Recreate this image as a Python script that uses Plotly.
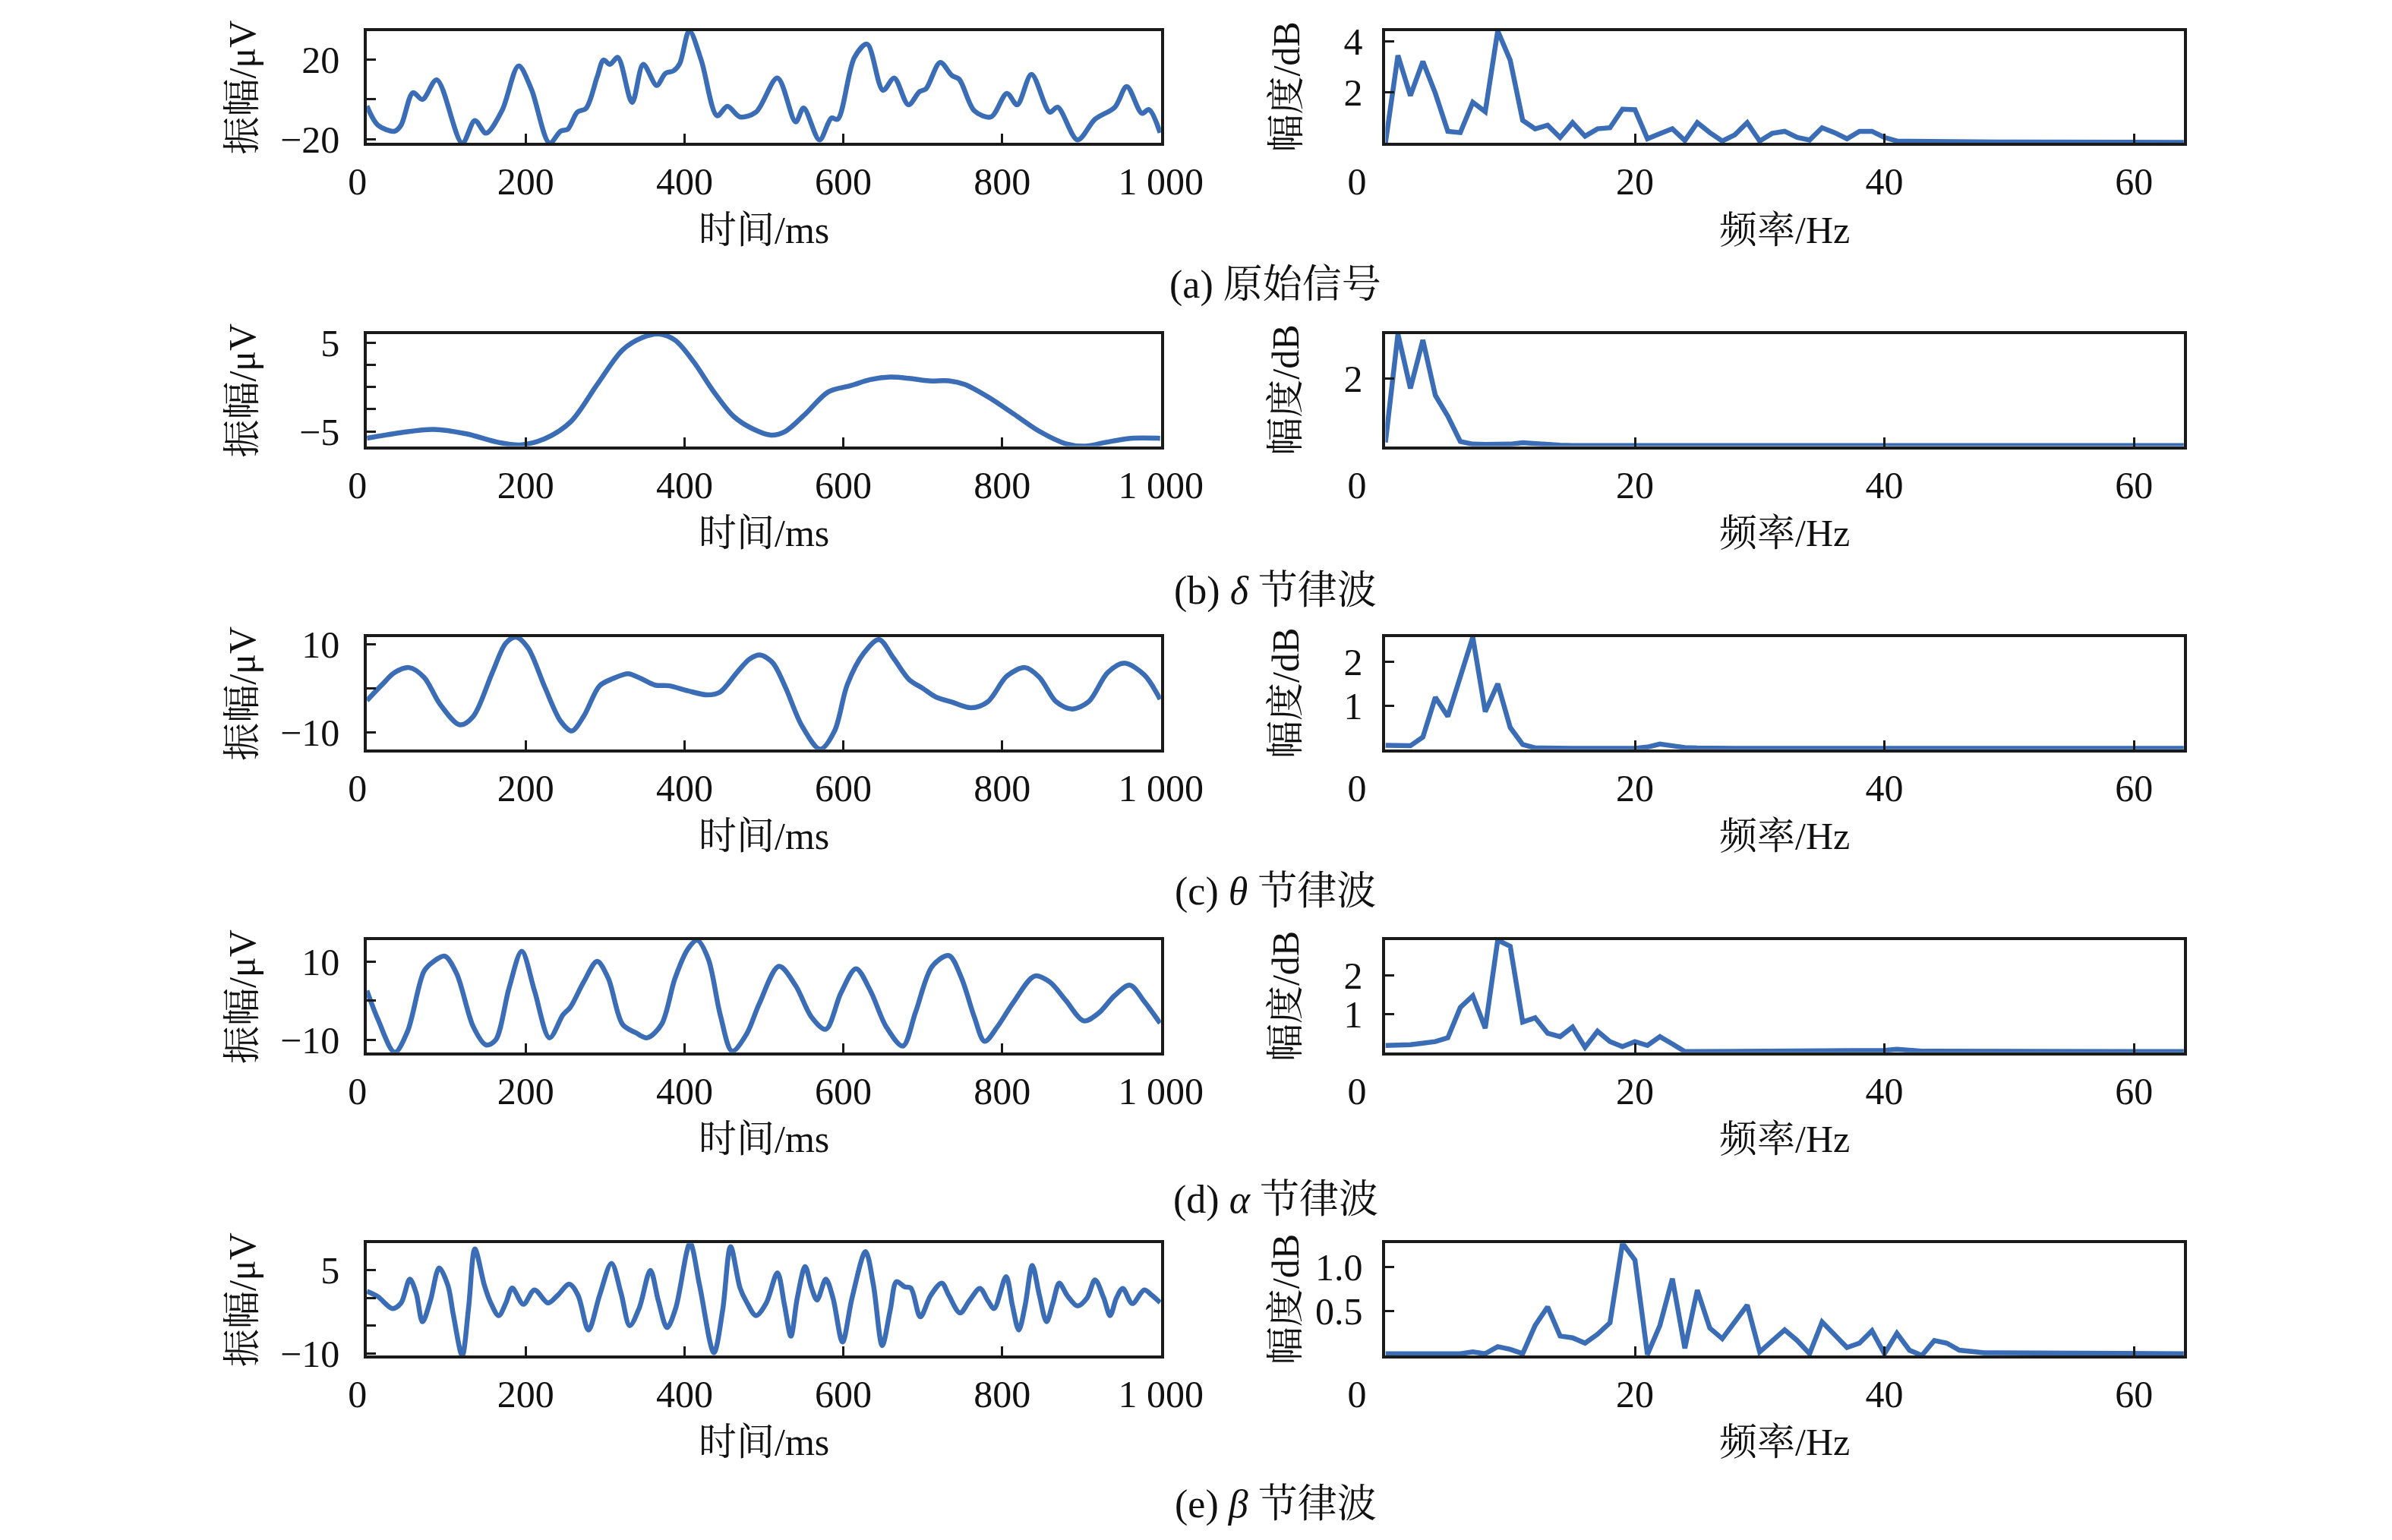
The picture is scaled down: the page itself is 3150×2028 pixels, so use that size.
import plotly.graph_objects as go

FONT = "Liberation Serif, Noto Serif CJK SC, Noto Sans CJK SC, serif"
BLUE = "#3a6db5"
AXC = "#1a1a1a"
W, H = 3150, 2028

# ---------------- time-domain signals (ms, μV) ----------------
t_a = [0, 14, 35, 43, 58, 70, 88, 120, 136, 150, 170, 191, 207, 230, 244, 253, 265, 276, 290, 298,
       306, 316, 334, 348, 365, 376, 386, 394, 406, 421, 441, 454, 470, 490, 517, 540, 550, 570, 585, 593,
       614, 630, 650, 664, 682, 696, 704, 722, 737, 746, 765, 786, 806, 819, 837, 860, 870, 895, 917, 942,
       957, 976, 985, 999]
v_a = [-3.3, -13, -16, -13, 3.4, 0, 9.9, -22, -10.6, -17, -5.7, 16.9, 5.3, -22, -16, -15, -6.4, -4.5, 11.4, 19.9,
       17.7, 21.2, -1.5, 17.7, 7.1, 13.2, 14.4, 18.1, 34.6, 19.9, -8.2, -3.5, -8.8, -6.4, 10.8, -11.3, -4.3, -20.4, -9.4, -10,
       21.2, 27.9, 4.6, 10.8, -2.7, 4, 5.3, 18.7, 12, 10.2, -5.7, -8.8, 3.1, -2.7, 12.6, -6.4, -3.9, -20.4, -10, -3.9,
       6.5, -7, -5.1, -16.8]

t_b = [0, 43, 84, 125, 166, 193, 224, 257, 290, 322, 347, 367, 388, 412, 437, 462, 486, 509, 527, 552,
       581, 609, 634, 659, 683, 708, 733, 753, 782, 815, 847, 880, 905, 930, 962, 999]
v_b = [-5.78, -5.14, -4.78, -5.28, -6.25, -6.53, -5.83, -3.89, 0.28, 4.17, 5.56, 5.97, 5.28, 2.78, -0.56, -3.33,
       -4.72, -5.42, -5, -3.06, -0.56, 0.14, 0.83, 1.11, 0.97, 0.69, 0.69, 0.28, -1.11, -3.06, -5, -6.39, -6.67,
       -6.25, -5.78, -5.78]

t_c = [0, 19, 35, 53, 72, 92, 117, 134, 158, 175, 188, 203, 224, 244, 258, 273, 293, 310, 329, 345,
       363, 381, 404, 429, 445, 466, 482, 495, 511, 527, 548, 571, 589, 605, 626, 645, 663, 683, 700, 716,
       737, 761, 782, 806, 829, 847, 868, 888, 909, 933, 954, 979, 999]
v_c = [-2.78, 0.83, 3.6, 4.72, 2.5, -3.6, -8.33, -6.39, 3.6, 10.3, 11.67, 9.17, 0.28, -7.5, -9.72, -6.39, 0.56,
       2.22, 3.33, 2.22, 0.72, 0.56, -0.56, -1.5, -0.83, 3.6, 6.67, 7.6, 5.83, 0.28, -8.6, -13.9, -9.72, 0.83,
       8.06, 11.1, 6.94, 1.94, 0, -1.94, -3.17, -4.44, -3.06, 2.78, 4.72, 2.5, -3.06, -4.72, -3.06, 3.6, 5.72,
       3.06, -2.5]

t_d = [0, 14, 35, 51, 72, 84, 98, 113, 134, 150, 162, 179, 195, 211, 230, 247, 256, 273, 290, 304,
       322, 339, 353, 371, 388, 404, 416, 430, 445, 460, 478, 494, 519, 540, 560, 578, 597, 616, 634, 654,
       675, 691, 712, 733, 749, 765, 778, 794, 814, 841, 860, 880, 903, 921, 942, 961, 979, 999]
v_d = [2.6, -4.77, -13.1, -7.85, 7.54, 10, 11.35, 6.92, -6.6, -11.2, -10, 3.23, 12.6, 2.6, -9.4, -3.54, -1.7,
       4.77, 10, 5.7, -6, -8.15, -9.4, -6, 5.7, 13.1, 15.4, 10.6, -3.54, -12.8, -8.5, -0.8, 8.77, 3.85, -4.15,
       -7.23, 2, 8.15, 2.6, -6.6, -11.5, -2.9, 8.77, 11.5, 5.7, -4.15, -10.3, -6.6, -0.46, 6.3, 4.77, 0.15,
       -5.1, -3.23, 1.38, 3.97, -0.15, -5.7]

t_e = [0, 14, 32, 43, 54, 62, 70, 80, 91, 102, 109, 120, 128, 136, 148, 156, 166, 175, 183, 197,
       211, 228, 240, 255, 266, 279, 293, 308, 320, 331, 343, 357, 367, 378, 389, 407, 419, 437, 448, 458,
       470, 478, 490, 503, 517, 526, 534, 542, 552, 560, 567, 578, 587, 599, 611, 628, 638, 649, 659, 667,
       677, 685, 697, 710, 724, 733, 747, 759, 772, 782, 790, 805, 813, 821, 829, 838, 847, 856, 864, 872,
       882, 895, 907, 917, 928, 936, 944, 952, 964, 979, 989, 999]
v_e = [1.2, 0.23, -1.9, -0.9, 3.4, 0.9, -4.3, -0.45, 5.45, 2.27, -3.18, -10.4, -1.8, 8.86, 2.27, -0.9, -3.18,
       -0.9, 1.8, -1.14, 1.45, -0.9, 0.45, 2.5, 0.45, -5.8, 0.45, 6.27, 0.9, -5, -1.8, 5, -0.45, -5.36, -1.8,
       9.9, 2.27, -9.9, -2.27, 9.3, 1.8, -0.68, -3.18, -0.9, 4.55, -1.36, -6.9, 0, 5.68, 1.8, -0.36, 3.4, 0,
       -7.95, 0, 8.4, 2.27, -8.6, -2.27, 2.95, 2.05, 1.8, -3.4, 0.45, 2.7, 0.45, -2.7, -0.45, 1.73, -0.45,
       -1.9, 3.86, -1.36, -5.8, -1.36, 5.9, 0.45, -4.3, -0.9, 2.7, 0.45, -1.45, 0, 3.27, 0, -3.18, 0, 1.73,
       -1, 1.45, 0.45, -0.82]

# ---------------- spectra (Hz, dB) ----------------
freq_hz = list(range(0, 65))
s_a = [0, 3.44, 1.86, 3.2, 1.95, 0.46, 0.41, 1.6, 1.23, 4.4,
       3.25, 0.89, 0.56, 0.7, 0.22, 0.8, 0.27, 0.56, 0.6, 1.33,
       1.31, 0.17, 0.37, 0.56, 0.1, 0.8, 0.41, 0.08, 0.32, 0.8,
       0.08, 0.38, 0.46, 0.22, 0.12, 0.6, 0.41, 0.17, 0.46, 0.46,
       0.22, 0.08, 0.07, 0.06, 0.06, 0.05, 0.05, 0.05, 0.04, 0.04,
       0.04, 0.04, 0.04, 0.03, 0.03, 0.03, 0.03, 0.03, 0.03, 0.03,
       0.03, 0.03, 0.03, 0.03, 0.03]
s_b = [0.11, 3.32, 1.71, 3.14, 1.5, 0.89, 0.14, 0.06, 0.05, 0.05,
       0.06, 0.1, 0.07, 0.04, 0.03, 0.02, 0.02, 0.02, 0.03, 0.04,
       0.05, 0.04, 0.03, 0.02, 0.02, 0.02, 0.02, 0.02, 0.02, 0.02,
       0.02, 0.02, 0.02, 0.02, 0.02, 0.02, 0.02, 0.02, 0.02, 0.02,
       0.02, 0.02, 0.02, 0.02, 0.02, 0.02, 0.02, 0.02, 0.02, 0.02,
       0.02, 0.02, 0.02, 0.02, 0.02, 0.02, 0.02, 0.02, 0.02, 0.02,
       0.02, 0.02, 0.02, 0.02, 0.02]
s_c = [0.09, 0.09, 0.08, 0.28, 1.19, 0.75, 1.67, 2.57, 0.86, 1.5,
       0.5, 0.11, 0.03, 0.02, 0.02, 0.02, 0.02, 0.02, 0.02, 0.02,
       0.02, 0.05, 0.12, 0.08, 0.04, 0.03, 0.02, 0.02, 0.02, 0.02,
       0.02, 0.02, 0.02, 0.02, 0.02, 0.02, 0.02, 0.02, 0.03, 0.03,
       0.03, 0.03, 0.02, 0.02, 0.02, 0.02, 0.02, 0.02, 0.02, 0.02,
       0.02, 0.02, 0.02, 0.02, 0.02, 0.02, 0.02, 0.02, 0.02, 0.02,
       0.02, 0.02, 0.02, 0.02, 0.02]
s_d = [0.18, 0.18, 0.2, 0.24, 0.28, 0.38, 1.17, 1.47, 0.63, 2.92,
       2.76, 0.79, 0.9, 0.5, 0.41, 0.66, 0.13, 0.55, 0.28, 0.15,
       0.28, 0.18, 0.41, 0.22, 0.02, 0.02, 0.02, 0.02, 0.02, 0.02,
       0.02, 0.02, 0.02, 0.02, 0.02, 0.02, 0.02, 0.02, 0.02, 0.03,
       0.05, 0.08, 0.05, 0.03, 0.03, 0.03, 0.03, 0.03, 0.02, 0.02,
       0.02, 0.02, 0.02, 0.02, 0.02, 0.02, 0.02, 0.02, 0.02, 0.02,
       0.02, 0.02, 0.02, 0.02, 0.02]
s_e = [0.02, 0.02, 0.02, 0.02, 0.02, 0.02, 0.02, 0.04, 0.02, 0.1,
       0.07, 0.02, 0.34, 0.55, 0.22, 0.2, 0.14, 0.24, 0.37, 1.27,
       1.08, 0.01, 0.34, 0.87, 0.08, 0.74, 0.31, 0.19, 0.38, 0.57,
       0.04, 0.17, 0.29, 0.17, 0.02, 0.38, 0.23, 0.09, 0.14, 0.28,
       0.02, 0.25, 0.06, 0.0, 0.17, 0.14, 0.06, 0.04, 0.03, 0.03,
       0.03, 0.02, 0.02, 0.02, 0.02, 0.02, 0.02, 0.02, 0.02, 0.02,
       0.02, 0.02, 0.02, 0.02, 0.02]

time_ticks = [0, 200, 400, 600, 800, 1000]
time_ticktext = ["0\u00a0\u00a0", "200", "400", "600", "800", "1 000"]
freq_ticks = [0, 20, 40, 60]
freq_ticktext = ["0\u00a0\u00a0\u00a0\u00a0\u00a0\u00a0", "20", "40", "60"]

left_yticks = [[-20, 0, 20], [-5, -2.5, 0, 2.5, 5], [-10, 0, 10], [-10, 0, 10], [-10, -5, 0, 5]]
left_yticktext = [["\u221220", "", "20"], ["\u22125", "", "", "", "5"], ["\u221210", "", "10"],
                  ["\u221210", "", "10"], ["\u221210", "", "", "5"]]
right_yticks = [[2, 4], [2], [1, 2], [1, 2], [0.5, 1.0]]
right_yticktext = [["2", "4"], ["2"], ["1", "2"], ["1", "2"], ["0.5", "1.0"]]

captions = ["(a) 原始信号", "(b) <i>δ</i> 节律波", "(c) <i>θ</i> 节律波",
            "(d) <i>α</i> 节律波", "(e) <i>β</i> 节律波"]
time_title = "时间/ms"
freq_title = "频率/Hz"
amp_title = "振幅/μV"
mag_title = "幅度/dB"

times = [(t_a, v_a), (t_b, v_b), (t_c, v_c), (t_d, v_d), (t_e, v_e)]
spectra = [s_a, s_b, s_c, s_d, s_e]

# ---------------- layout geometry (pixels) ----------------
LX = (440, 1522)
RX = (1828, 2916)
TOPS = [15, 423, 831, 1239, 1647]
PH = 151
CAP_Y = [357, 769, 1173, 1588, 1998]

fig = go.Figure()
annotations = []


def axis_common():
    return dict(showline=True, mirror=True, linecolor=AXC, linewidth=4,
                ticks="inside", ticklen=12, tickwidth=3, tickcolor=AXC,
                showgrid=False, zeroline=False,
                tickfont=dict(family=FONT, size=50, color="#111111"))


for i in range(5):
    top = TOPS[i]
    bot = top + PH
    yd = [1 - bot / H, 1 - top / H]
    nl = 2 * i + 1
    nr = 2 * i + 2
    xl = "x" if nl == 1 else f"x{nl}"
    yl = "y" if nl == 1 else f"y{nl}"
    xr = f"x{nr}"
    yr = f"y{nr}"

    tt, vv = times[i]
    fig.add_trace(go.Scatter(x=tt, y=vv, mode="lines", xaxis=xl, yaxis=yl,
                             line=dict(color=BLUE, width=6.5, shape="spline", smoothing=0.9),
                             showlegend=False, hoverinfo="skip"))
    ss = spectra[i]
    fig.add_trace(go.Scatter(x=freq_hz, y=ss, mode="lines", xaxis=xr, yaxis=yr,
                             line=dict(color=BLUE, width=6.5),
                             showlegend=False, hoverinfo="skip"))

    kxl = "xaxis" if nl == 1 else f"xaxis{nl}"
    kyl = "yaxis" if nl == 1 else f"yaxis{nl}"
    kxr = f"xaxis{nr}"
    kyr = f"yaxis{nr}"

    ax = axis_common()
    ax.update(domain=[LX[0] / W, LX[1] / W], range=[0, 1000], anchor=yl,
              tickvals=time_ticks, ticktext=time_ticktext, ticklabelstandoff=4)
    fig.layout[kxl] = ax
    ay = axis_common()
    ay.update(domain=yd, range=[min(vv), max(vv)], anchor=xl,
              tickvals=left_yticks[i], ticktext=left_yticktext[i], ticklabelstandoff=22)
    fig.layout[kyl] = ay

    ax = axis_common()
    ax.update(domain=[RX[0] / W, RX[1] / W], range=[0, 64], anchor=yr,
              tickvals=freq_ticks, ticktext=freq_ticktext, ticklabelstandoff=4)
    fig.layout[kxr] = ax
    ay = axis_common()
    ay.update(domain=yd, range=[0, max(ss)], anchor=xr,
              tickvals=right_yticks[i], ticktext=right_yticktext[i], ticklabelstandoff=16)
    fig.layout[kyr] = ay

    # axis titles
    ty = 1 - (bot + 117) / H
    annotations.append(dict(text=time_title, x=(LX[0] + LX[1]) / 2 / W, y=ty, xref="paper", yref="paper",
                            showarrow=False, xanchor="center", yanchor="middle",
                            font=dict(family=FONT, size=50, color="#111111")))
    annotations.append(dict(text=freq_title, x=(RX[0] + RX[1]) / 2 / W, y=ty, xref="paper", yref="paper",
                            showarrow=False, xanchor="center", yanchor="middle",
                            font=dict(family=FONT, size=50, color="#111111")))
    cy = 1 - (top + PH / 2) / H
    annotations.append(dict(text=amp_title, x=270 / W, y=cy, xref="paper", yref="paper",
                            showarrow=False, xanchor="center", yanchor="middle", textangle=-90,
                            font=dict(family=FONT, size=50, color="#111111")))
    annotations.append(dict(text=mag_title, x=1692 / W, y=cy, xref="paper", yref="paper",
                            showarrow=False, xanchor="center", yanchor="middle", textangle=-90,
                            font=dict(family=FONT, size=50, color="#111111")))
    annotations.append(dict(text=captions[i], x=(LX[0] + RX[1]) / 2 / W, y=1 - CAP_Y[i] / H,
                            xref="paper", yref="paper", showarrow=False,
                            xanchor="center", yanchor="middle",
                            font=dict(family=FONT, size=52, color="#111111")))

fig.update_layout(width=W, height=H, margin=dict(l=0, r=0, t=0, b=0),
                  paper_bgcolor="white", plot_bgcolor="white",
                  annotations=annotations, showlegend=False)

fig.write_html("out.html")
